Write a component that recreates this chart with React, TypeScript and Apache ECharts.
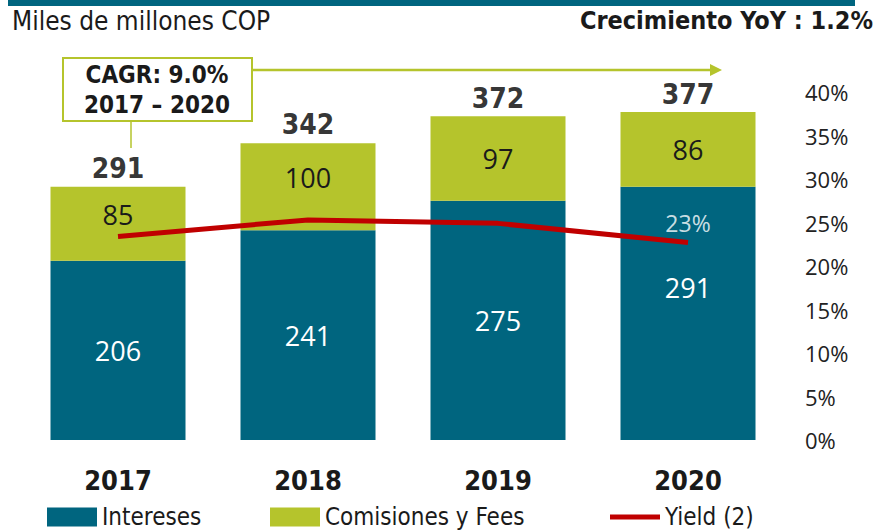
import React, { useEffect, useRef } from "react";
import * as echarts from "echarts";

const categories = ["2017", "2018", "2019", "2020"];
const intereses = [206, 241, 275, 291];
const comisiones = [85, 100, 97, 86];
const totals = [291, 342, 372, 377];
const yieldPct = [23.4, 25.3, 24.9, 22.7];
const yieldLabelIndex = 3;
const yieldLabelText = "23%";
const rightTicks = [0, 5, 10, 15, 20, 25, 30, 35, 40];
const legendNames = ["Intereses", "Comisiones y Fees", "Yield (2)"];

// style-only nudges
const interesesLabelDy = [0, 0, 0, -26];
const comisionesLabelDy = [-9, -9, 0, 0];
const legendLeft = [47, 270, 610];

const TEAL = "#00657F";
const GREEN = "#B5C42C";
const RED = "#C00000";
const NARROW = "'DejaVu Sans Condensed', 'Liberation Sans Narrow', sans-serif";
const SANS = "'Open Sans', 'Noto Sans', sans-serif";

export default function App() {
  const ref = useRef<HTMLDivElement>(null);
  useEffect(() => {
    if (!ref.current) return;
    const chart = echarts.init(ref.current, null, { renderer: "svg" });
    const legendIcons = ["rect", "rect", "path://M0,0 L50,0 L50,5 L0,5 Z"];
    chart.setOption({
      animation: false,
      grid: { left: 23, right: 96, top: 92, bottom: 91 },
      legend: legendNames.map((n, i) => ({
        left: legendLeft[i],
        top: 504,
        padding: 0,
        itemWidth: 50,
        itemHeight: 19,
        itemGap: 0,
        textStyle: { fontFamily: NARROW, fontSize: 24, color: "#1a1a1a", lineHeight: 26 },
        data: [{ name: n, icon: legendIcons[i] }],
      })),
      xAxis: {
        type: "category",
        data: categories,
        axisLine: { show: false },
        axisTick: { show: false },
        axisLabel: {
          margin: 27,
          fontFamily: NARROW,
          fontWeight: "bold",
          fontSize: 27,
          color: "#1a1a1a",
        },
      },
      yAxis: [
        { type: "value", min: 0, max: 400, show: false },
        {
          type: "value",
          min: 0,
          max: 40,
          interval: 5,
          position: "right",
          splitLine: { show: false },
          axisLine: { show: false },
          axisTick: { show: false },
          axisLabel: {
            margin: 22,
            align: "left",
            fontFamily: SANS,
            fontSize: 22,
            color: "#222",
            formatter: (v: number) => (rightTicks.includes(v) ? v + "%" : ""),
          },
        },
      ],
      series: [
        {
          name: "Intereses",
          type: "bar",
          stack: "t",
          barWidth: 135,
          data: intereses.map((v, i) => ({ value: v, label: { offset: [0, interesesLabelDy[i]] } })),
          itemStyle: { color: TEAL },
          label: {
            show: true,
            position: "inside",
            color: "#fff",
            fontFamily: SANS,
            fontSize: 27,
          },
        },
        {
          name: "Comisiones y Fees",
          type: "bar",
          stack: "t",
          barWidth: 135,
          data: comisiones.map((v, i) => ({ value: v, label: { offset: [0, comisionesLabelDy[i]] } })),
          itemStyle: { color: GREEN },
          label: {
            show: true,
            position: "inside",
            color: "#1a1a1a",
            fontFamily: SANS,
            fontSize: 27,
          },
        },
        {
          name: "Totales",
          type: "scatter",
          data: totals,
          symbolSize: 0,
          silent: true,
          label: {
            show: true,
            position: "top",
            distance: 4,
            color: "#000",
            fontFamily: NARROW,
            fontWeight: "bold",
            fontSize: 28,
          },
        },
        {
          name: "Yield (2)",
          type: "line",
          yAxisIndex: 1,
          data: yieldPct,
          symbol: "none",
          lineStyle: { color: RED, width: 5 },
          itemStyle: { color: RED },
          z: 5,
        },
        {
          name: "YieldLabel",
          type: "scatter",
          yAxisIndex: 1,
          symbolSize: 0,
          silent: true,
          data: yieldPct.map((v, i) => (i === yieldLabelIndex ? [i, v] : [i, null])),
          label: {
            show: true,
            position: "top",
            distance: 8,
            color: "#fff",
            fontFamily: SANS,
            fontSize: 23,
            formatter: () => yieldLabelText,
          },
          z: 6,
        },
      ],
      graphic: [
        { type: "rect", shape: { x: 8, y: 0, width: 847, height: 6 }, style: { fill: TEAL } },
        {
          type: "text",
          left: 12,
          top: 8,
          style: { text: "Miles de millones COP", fontFamily: NARROW, fontSize: 26, fill: "#1a1a1a" },
        },
        {
          type: "text",
          right: 6,
          top: 8,
          style: {
            text: "Crecimiento YoY : 1.2%",
            fontFamily: NARROW,
            fontWeight: "bold",
            fontSize: 25,
            fill: "#1a1a1a",
          },
        },
        {
          type: "rect",
          shape: { x: 63, y: 58, width: 189, height: 63 },
          style: { fill: "#fff", stroke: GREEN, lineWidth: 2 },
        },
        {
          type: "text",
          x: 157,
          y: 75,
          style: {
            text: "CAGR: 9.0%",
            align: "center",
            verticalAlign: "middle",
            fontFamily: NARROW,
            fontWeight: "bold",
            fontSize: 24,
            fill: "#1a1a1a",
          },
        },
        {
          type: "text",
          x: 157,
          y: 105,
          style: {
            text: "2017 – 2020",
            align: "center",
            verticalAlign: "middle",
            fontFamily: NARROW,
            fontWeight: "bold",
            fontSize: 24,
            fill: "#1a1a1a",
          },
        },
        {
          type: "line",
          shape: { x1: 252, y1: 70, x2: 712, y2: 70 },
          style: { stroke: GREEN, lineWidth: 2.5 },
        },
        {
          type: "polygon",
          shape: { points: [[710, 64], [722, 70], [710, 76]] },
          style: { fill: GREEN },
        },
        {
          type: "line",
          shape: { x1: 131, y1: 121, x2: 131, y2: 148 },
          style: { stroke: GREEN, lineWidth: 1.5 },
        },
      ],
    });
    return () => chart.dispose();
  }, []);
  return (
    <div
      ref={ref}
      style={{ position: "fixed", left: 0, top: 0, width: 879, height: 531, background: "#fff" }}
    />
  );
}
